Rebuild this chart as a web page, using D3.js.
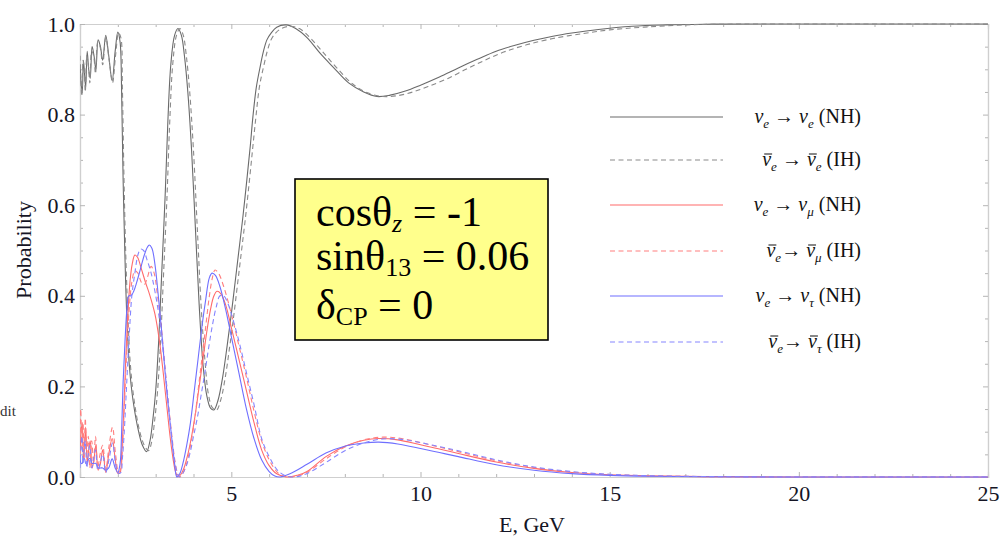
<!DOCTYPE html>
<html><head><meta charset="utf-8">
<script src="https://cdn.jsdelivr.net/npm/d3@7"></script>
<style>
body{margin:0;background:#fff;}
text{font-family:"Liberation Serif","Times New Roman",serif;}
</style></head>
<body><svg id="chart" width="1005" height="537"></svg>
<script>
// ---- data: [E (GeV), probability] ----
const eeNH = [[1.00,0.91],[1.03,0.87],[1.06,0.85],[1.09,0.92],[1.12,0.89],[1.15,0.86],[1.19,0.94],[1.23,0.90],[1.27,0.88],[1.32,0.95],[1.37,0.93],[1.42,0.90],[1.48,0.965],[1.54,0.95],[1.60,0.92],[1.68,0.975],[1.76,0.93],[1.85,0.875],[1.93,0.94],[2.00,0.982],[2.06,0.96],[2.10,0.85],[2.14,0.656],[2.19,0.48],[2.23,0.37],[2.30,0.25],[2.40,0.17],[2.55,0.10],[2.65,0.07],[2.76,0.056],[2.85,0.08],[2.93,0.13],[3.00,0.19],[3.08,0.30],[3.16,0.45],[3.25,0.62],[3.32,0.78],[3.40,0.91],[3.50,0.975],[3.59,0.99],[3.68,0.975],[3.76,0.93],[3.85,0.85],[3.95,0.72],[4.05,0.55],[4.15,0.38],[4.25,0.25],[4.35,0.18],[4.45,0.152],[4.54,0.148],[4.65,0.17],[4.77,0.22],[4.89,0.29],[5.0,0.36],[5.1,0.43],[5.2,0.50],[5.3,0.57],[5.41,0.656],[5.5,0.73],[5.57,0.795],[5.66,0.86],[5.76,0.905],[5.85,0.94],[5.94,0.965],[6.05,0.98],[6.2,0.993],[6.45,0.998],[6.7,0.99],[7.0,0.97],[7.35,0.935],[7.69,0.905],[8.1,0.87],[8.5,0.85],[8.85,0.84],[9.2,0.843],[9.6,0.852],[10.0,0.865],[10.5,0.883],[11.0,0.903],[11.5,0.922],[12.0,0.94],[12.5,0.953],[13.0,0.964],[13.5,0.973],[14.0,0.98],[14.7,0.988],[15.6,0.995],[16.5,0.998],[17.5,0.9995],[19,1.0],[25,1.0]];
const eeIH = [[1.00,0.93],[1.02,0.88],[1.05,0.84],[1.08,0.92],[1.11,0.90],[1.14,0.85],[1.18,0.93],[1.22,0.91],[1.26,0.87],[1.31,0.94],[1.36,0.93],[1.41,0.89],[1.47,0.96],[1.53,0.95],[1.60,0.91],[1.68,0.97],[1.77,0.92],[1.86,0.87],[1.94,0.93],[2.02,0.98],[2.08,0.97],[2.12,0.86],[2.16,0.67],[2.21,0.49],[2.26,0.37],[2.33,0.25],[2.43,0.17],[2.58,0.10],[2.70,0.07],[2.81,0.058],[2.90,0.08],[2.98,0.13],[3.05,0.19],[3.13,0.30],[3.21,0.45],[3.30,0.62],[3.37,0.78],[3.45,0.91],[3.55,0.975],[3.64,0.99],[3.73,0.975],[3.81,0.93],[3.90,0.85],[4.0,0.72],[4.1,0.55],[4.2,0.38],[4.3,0.26],[4.4,0.18],[4.5,0.153],[4.61,0.148],[4.72,0.17],[4.84,0.22],[4.96,0.29],[5.07,0.36],[5.17,0.43],[5.27,0.50],[5.37,0.57],[5.48,0.656],[5.57,0.73],[5.65,0.795],[5.74,0.86],[5.85,0.905],[5.95,0.94],[6.05,0.965],[6.17,0.98],[6.32,0.99],[6.55,0.995],[6.8,0.99],[7.1,0.968],[7.45,0.935],[7.8,0.902],[8.2,0.868],[8.6,0.848],[9.0,0.84],[9.4,0.842],[9.8,0.85],[10.2,0.862],[10.7,0.879],[11.2,0.9],[11.7,0.92],[12.2,0.938],[12.8,0.954],[13.5,0.968],[14.3,0.979],[15.0,0.987],[15.9,0.993],[17,0.998],[18,0.9995],[20,1.0],[25,1.0]];
const emNH = [[1.00,0.05],[1.03,0.10],[1.06,0.12],[1.09,0.04],[1.12,0.07],[1.15,0.11],[1.19,0.03],[1.23,0.06],[1.27,0.08],[1.32,0.02],[1.37,0.04],[1.42,0.07],[1.48,0.015],[1.54,0.03],[1.60,0.06],[1.68,0.01],[1.76,0.05],[1.85,0.085],[1.93,0.04],[2.00,0.008],[2.06,0.01],[2.10,0.05],[2.15,0.13],[2.20,0.24],[2.26,0.35],[2.32,0.43],[2.38,0.47],[2.45,0.49],[2.52,0.485],[2.62,0.46],[2.73,0.43],[2.85,0.40],[2.98,0.36],[3.1,0.30],[3.2,0.23],[3.29,0.16],[3.38,0.09],[3.46,0.04],[3.53,0.01],[3.59,0.0],[3.66,0.005],[3.75,0.02],[3.85,0.05],[3.95,0.09],[4.05,0.14],[4.15,0.2],[4.25,0.26],[4.35,0.32],[4.45,0.37],[4.54,0.40],[4.62,0.41],[4.72,0.405],[4.85,0.38],[5.0,0.33],[5.2,0.26],[5.4,0.19],[5.6,0.12],[5.8,0.06],[6.0,0.025],[6.2,0.007],[6.46,0.0],[6.75,0.004],[7.0,0.012],[7.5,0.045],[8.0,0.068],[8.5,0.081],[8.9,0.085],[9.4,0.082],[10.0,0.071],[10.5,0.062],[11.0,0.052],[12.0,0.033],[13.0,0.019],[14.0,0.01],[15.0,0.005],[16.0,0.0025],[17.5,0.0008],[20,0.0],[25,0.0]];
const emIH = [[1.00,0.08],[1.02,0.15],[1.05,0.06],[1.08,0.12],[1.11,0.04],[1.14,0.13],[1.18,0.05],[1.22,0.09],[1.26,0.02],[1.31,0.08],[1.36,0.03],[1.41,0.09],[1.47,0.02],[1.53,0.05],[1.60,0.07],[1.68,0.015],[1.77,0.07],[1.86,0.11],[1.94,0.05],[2.02,0.01],[2.08,0.02],[2.12,0.06],[2.17,0.15],[2.23,0.27],[2.30,0.37],[2.37,0.43],[2.45,0.455],[2.53,0.45],[2.62,0.43],[2.70,0.425],[2.78,0.44],[2.88,0.465],[2.96,0.45],[3.05,0.40],[3.15,0.33],[3.25,0.24],[3.34,0.16],[3.43,0.09],[3.51,0.035],[3.58,0.008],[3.64,0.0],[3.72,0.008],[3.82,0.03],[3.92,0.07],[4.02,0.12],[4.12,0.19],[4.22,0.26],[4.32,0.33],[4.42,0.40],[4.5,0.44],[4.57,0.457],[4.66,0.45],[4.8,0.42],[5.0,0.36],[5.2,0.29],[5.4,0.22],[5.6,0.145],[5.8,0.08],[6.0,0.038],[6.2,0.012],[6.35,0.003],[6.55,0.0],[6.8,0.004],[7.0,0.01],[7.5,0.04],[8.0,0.066],[8.5,0.082],[9.0,0.088],[9.5,0.085],[10.0,0.076],[10.5,0.066],[11.0,0.056],[12.0,0.036],[13.0,0.021],[14.0,0.011],[15.0,0.0055],[16.0,0.0027],[17.5,0.0009],[20,0.0],[25,0.0]];
const etNH = [[1.00,0.04],[1.03,0.03],[1.06,0.03],[1.09,0.04],[1.12,0.04],[1.15,0.03],[1.19,0.03],[1.23,0.04],[1.27,0.04],[1.32,0.03],[1.37,0.03],[1.42,0.03],[1.48,0.02],[1.54,0.02],[1.60,0.02],[1.68,0.015],[1.76,0.02],[1.85,0.04],[1.93,0.02],[2.00,0.01],[2.06,0.03],[2.10,0.10],[2.14,0.21],[2.19,0.30],[2.24,0.37],[2.29,0.40],[2.35,0.40],[2.42,0.41],[2.5,0.43],[2.6,0.46],[2.7,0.49],[2.78,0.507],[2.83,0.512],[2.9,0.505],[2.98,0.47],[3.07,0.40],[3.16,0.32],[3.25,0.23],[3.33,0.16],[3.42,0.09],[3.5,0.03],[3.56,0.0],[3.63,0.006],[3.72,0.03],[3.82,0.07],[3.92,0.12],[4.02,0.19],[4.12,0.26],[4.22,0.33],[4.32,0.39],[4.42,0.44],[4.49,0.45],[4.58,0.445],[4.7,0.42],[4.85,0.37],[5.0,0.31],[5.2,0.23],[5.4,0.15],[5.6,0.085],[5.8,0.038],[6.0,0.012],[6.15,0.002],[6.29,0.0],[6.55,0.007],[7.0,0.028],[7.5,0.053],[8.0,0.068],[8.5,0.075],[8.9,0.077],[9.4,0.073],[10.0,0.063],[10.5,0.054],[11.0,0.045],[12.0,0.027],[13.0,0.015],[14.0,0.0075],[15.0,0.0035],[16.0,0.0015],[17.5,0.0004],[20,0.0],[25,0.0]];
const etIH = [[1.00,0.02],[1.02,0.06],[1.05,0.09],[1.08,0.03],[1.11,0.06],[1.14,0.08],[1.18,0.02],[1.22,0.05],[1.26,0.07],[1.31,0.02],[1.36,0.04],[1.41,0.06],[1.47,0.015],[1.53,0.03],[1.60,0.05],[1.68,0.01],[1.77,0.04],[1.86,0.075],[1.94,0.03],[2.02,0.008],[2.08,0.01],[2.12,0.04],[2.17,0.10],[2.23,0.20],[2.30,0.31],[2.37,0.40],[2.45,0.45],[2.53,0.49],[2.6,0.503],[2.68,0.50],[2.77,0.48],[2.88,0.45],[2.98,0.41],[3.08,0.36],[3.18,0.29],[3.28,0.21],[3.37,0.13],[3.46,0.06],[3.55,0.015],[3.62,0.0],[3.7,0.006],[3.8,0.022],[3.9,0.05],[4.0,0.09],[4.1,0.13],[4.2,0.18],[4.3,0.23],[4.4,0.285],[4.5,0.335],[4.6,0.375],[4.7,0.40],[4.8,0.40],[4.9,0.385],[5.0,0.36],[5.2,0.30],[5.4,0.23],[5.6,0.16],[5.8,0.085],[6.0,0.045],[6.2,0.017],[6.4,0.004],[6.63,0.0],[6.85,0.003],[7.1,0.012],[7.5,0.032],[8.0,0.058],[8.5,0.075],[9.0,0.084],[9.5,0.083],[10.0,0.076],[10.5,0.067],[11.0,0.058],[12.0,0.038],[13.0,0.022],[14.0,0.012],[15.0,0.006],[16.0,0.003],[17.5,0.001],[20,0.0],[25,0.0]];

const xMajor = [5, 10, 15, 20, 25];
const xMinor = [2,3,4,6,7,8,9,11,12,13,14,16,17,18,19,21,22,23,24];
const yMajor = [0, 0.2, 0.4, 0.6, 0.8, 1.0];
const yMinor = [0.05,0.1,0.15,0.25,0.3,0.35,0.45,0.5,0.55,0.65,0.7,0.75,0.85,0.9,0.95];

const legendItems = [
  {fs:"e", ts:"e", h:"NH", bar:false},
  {fs:"e", ts:"e", h:"IH", bar:true},
  {fs:"e", ts:"μ", h:"NH", bar:false},
  {fs:"e", ts:"μ", h:"IH", bar:true},
  {fs:"e", ts:"τ", h:"NH", bar:false},
  {fs:"e", ts:"τ", h:"IH", bar:true}
];

// ---- drawing ----
const svg = d3.select("#chart");
const L = 80, R = 988, T = 24, B = 477;
const x = d3.scaleLinear().domain([1, 25]).range([L, R]);
const y = d3.scaleLinear().domain([0, 1]).range([B, T]);

svg.append("defs").append("clipPath").attr("id","clip")
  .append("rect").attr("x",L).attr("y",T-2).attr("width",R-L).attr("height",B-T+3);

function styleAxis(g){
  g.select(".domain").attr("stroke","#cfcfcf").attr("stroke-width",1.2);
  g.selectAll(".tick line").attr("stroke","#b5b5b5");
  g.selectAll("text").attr("font-family","'Liberation Serif','Times New Roman',serif")
    .attr("font-size",22).attr("fill","#151525");
}
// bottom
svg.append("g").attr("transform",`translate(0,${B})`)
  .call(d3.axisBottom(x).tickValues(xMinor).tickSize(-3).tickFormat("")).call(styleAxis);
svg.append("g").attr("transform",`translate(0,${B})`)
  .call(d3.axisBottom(x).tickValues(xMajor).tickSize(-5).tickPadding(8).tickFormat(d3.format("d"))).call(styleAxis);
// top
svg.append("g").attr("transform",`translate(0,${T})`)
  .call(d3.axisTop(x).tickValues(xMinor).tickSize(-3).tickFormat("")).call(styleAxis);
svg.append("g").attr("transform",`translate(0,${T})`)
  .call(d3.axisTop(x).tickValues(xMajor).tickSize(-5).tickFormat("")).call(styleAxis);
// left
svg.append("g").attr("transform",`translate(${L},0)`)
  .call(d3.axisLeft(y).tickValues(yMinor).tickSize(-3).tickFormat("")).call(styleAxis);
svg.append("g").attr("transform",`translate(${L},0)`)
  .call(d3.axisLeft(y).tickValues(yMajor).tickSize(-5).tickPadding(5).tickFormat(d3.format(".1f"))).call(styleAxis);
// right
svg.append("g").attr("transform",`translate(${R},0)`)
  .call(d3.axisRight(y).tickValues(yMinor).tickSize(-3).tickFormat("")).call(styleAxis);
svg.append("g").attr("transform",`translate(${R},0)`)
  .call(d3.axisRight(y).tickValues(yMajor).tickSize(-5).tickFormat("")).call(styleAxis);

// axis labels
svg.append("text").attr("x",532).attr("y",532).attr("text-anchor","middle")
  .attr("font-size",22).attr("fill","#151525").text("E, GeV");
svg.append("text").attr("transform","translate(31,250) rotate(-90)").attr("text-anchor","middle")
  .attr("font-size",22).attr("fill","#151525").text("Probability");
svg.append("text").attr("x",0).attr("y",416).attr("font-size",15).attr("fill","#333").text("dit");

// series
const series = [
  {data: eeNH, color:"#6a6a6a", dash:null},
  {data: eeIH, color:"#8a8a8a", dash:"5,3.5"},
  {data: emNH, color:"#ff6a6a", dash:null},
  {data: emIH, color:"#ff7f7f", dash:"5,3.5"},
  {data: etNH, color:"#6f6fff", dash:null},
  {data: etIH, color:"#8585ff", dash:"5,3.5"}
];
const line = d3.line().x(d=>x(d[0])).y(d=>y(d[1])).curve(d3.curveCatmullRom.alpha(0.5));
const plot = svg.append("g").attr("clip-path","url(#clip)");
series.forEach(s=>{
  plot.append("path").datum(s.data).attr("d",line)
    .attr("fill","none").attr("stroke",s.color).attr("stroke-width",1.1)
    .attr("stroke-dasharray",s.dash);
});

// legend
const legY = [117,160,205,251,296,342];
legendItems.forEach((it,i)=>{
  const s = series[i];
  svg.append("line").attr("x1",610).attr("x2",723).attr("y1",legY[i]).attr("y2",legY[i])
    .attr("stroke",s.color).attr("stroke-width",1.2).attr("stroke-dasharray",s.dash);
  const base = legY[i] + 6;
  const t = svg.append("text").attr("x",861).attr("y",base).attr("text-anchor","end")
    .attr("font-size",20).attr("fill","#111");
  const n1 = t.append("tspan").attr("font-style","italic").text("ν");
  t.append("tspan").attr("font-style","italic").attr("font-size",13).attr("dy",5).text(it.fs);
  t.append("tspan").attr("dy",-5).text(it.bar && i>1 ? "\u2192 " : " \u2192 ");
  const n2 = t.append("tspan").attr("font-style","italic").text("ν");
  t.append("tspan").attr("font-style","italic").attr("font-size",13).attr("dy",5).text(it.ts);
  t.append("tspan").attr("dy",-5).text(" (" + it.h + ")");
  if (it.bar) {
    [n1, n2].forEach(n=>{
      const b = n.node().getExtentOfChar(0);
      svg.append("line").attr("x1",b.x+2).attr("x2",b.x+b.width+1)
        .attr("y1",base-12).attr("y2",base-12).attr("stroke","#111").attr("stroke-width",1);
    });
  }
});

// parameter box
svg.append("rect").attr("x",295).attr("y",179).attr("width",253).attr("height",161)
  .attr("fill","#ffff8c").attr("stroke","#000").attr("stroke-width",1.6);
const boxLines = [
  {a:"cosθ", sub:"z", subItalic:true, b:" = -1", y:226},
  {a:"sinθ", sub:"13", subItalic:false, b:" = 0.06", y:270},
  {a:"δ", sub:"CP", subItalic:false, b:" = 0", y:319}
];
boxLines.forEach(l=>{
  const t = svg.append("text").attr("x",316).attr("y",l.y).attr("font-size",42).attr("fill","#000");
  t.append("tspan").text(l.a);
  t.append("tspan").attr("font-size",26).attr("dy",6).attr("font-style",l.subItalic?"italic":null).text(l.sub);
  t.append("tspan").attr("dy",-6).text(l.b);
});
</script></body></html>
